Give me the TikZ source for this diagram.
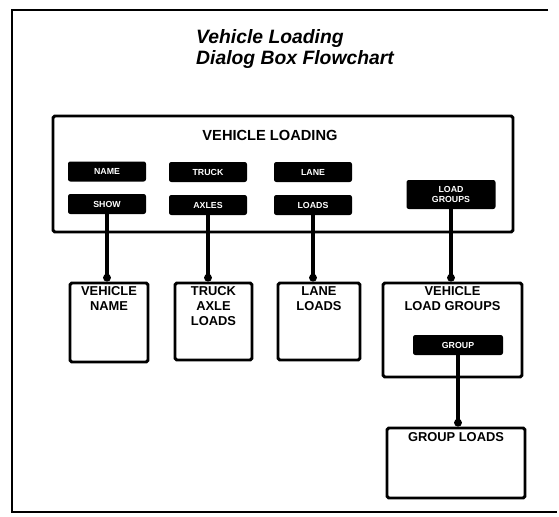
\documentclass[tikz,border=0pt]{standalone}
\usepackage{fontspec}
\setmainfont{Liberation Sans}
\usetikzlibrary{arrows.meta,positioning}

\begin{document}
\begin{tikzpicture}[x=0.3mm,y=-0.3mm,
      panel/.style={draw,line width=2.5pt,rounded corners=1.5pt,inner sep=0pt},
      btn/.style={fill=black,text=white,rounded corners=2pt,minimum width=23.4mm,
        minimum height=6mm,inner sep=0pt,align=center,
        font=\fontsize{7.5}{8}\selectfont\bfseries},
      tag/.style={inner sep=0pt,align=center,font=\fontsize{11}{12.8}\selectfont\bfseries},
      link/.style={-{Circle[length=6.5pt]},line width=3pt}
    ]
      \useasboundingbox (0,0) rectangle (559,517);
      \draw[line width=2pt] (548,10) -- (12,10) -- (12,512) -- (557,512);
      \node[anchor=west,align=left,inner sep=0pt,
        font=\fontsize{16.5}{18.7}\selectfont\bfseries\itshape] (title) at (196,49)
        {Vehicle Loading\\Dialog Box Flowchart};
      % dialog box with its buttons
      \node[panel,minimum width=138mm,minimum height=34.8mm] (loading) at (283,174) {};
      \node[tag,font=\fontsize{12.5}{14}\selectfont\bfseries] (loadtag) at (270,135) {VEHICLE LOADING};
      \node[btn] (bname) at (107,171.5) {NAME};
      \node[btn] (bshow) at (107,204) {SHOW};
      \node[btn] (btruck) at (208,172) {TRUCK};
      \node[btn] (baxle) at (208,205) {AXLES};
      \node[btn] (blane) at (313,172) {LANE};
      \node[btn] (bloads) at (313,205) {LOADS};
      \node[btn,minimum width=26.7mm,minimum height=8.7mm] (bgroups) at (451,194.5) {LOAD\\GROUPS};
      % dialogs reached from it
      \node[panel,minimum width=23.4mm,minimum height=23.7mm] (vname) at (109,322.5) {};
      \node[tag,below=1.5mm of vname.north] (nametag) {VEHICLE\\NAME};
      \node[panel,minimum width=23.1mm,minimum height=23.1mm] (vtruck) at (213.5,321.5) {};
      \node[tag,below=1.5mm of vtruck.north] (trucktag) {TRUCK\\AXLE\\LOADS};
      \node[panel,minimum width=24.6mm,minimum height=23.1mm] (vlane) at (319,321.5) {};
      \node[tag,below=1.5mm of vlane.north] (lanetag) {LANE\\LOADS};
      \node[panel,minimum width=41.7mm,minimum height=28.2mm] (vgroups) at (452.5,330) {};
      \node[tag,below=1.5mm of vgroups.north] (groupstag) {VEHICLE\\LOAD GROUPS};
      \node[btn,minimum width=27mm] (bgroup) at (458,345) {GROUP};
      \node[panel,minimum width=41.4mm,minimum height=21mm] (gloads) at (456,463) {};
      \node[tag,below=1.8mm of gloads.north] (gloadstag) {GROUP LOADS};
      \draw[link] (bshow.south) -- (bshow.south |- vname.north);
      \draw[link] (baxle.south) -- (baxle.south |- vtruck.north);
      \draw[link] (bloads.south) -- (bloads.south |- vlane.north);
      \draw[link] (bgroups.south) -- (bgroups.south |- vgroups.north);
      \draw[link] (bgroup.south) -- (bgroup.south |- gloads.north);
    \end{tikzpicture}
\end{document}
